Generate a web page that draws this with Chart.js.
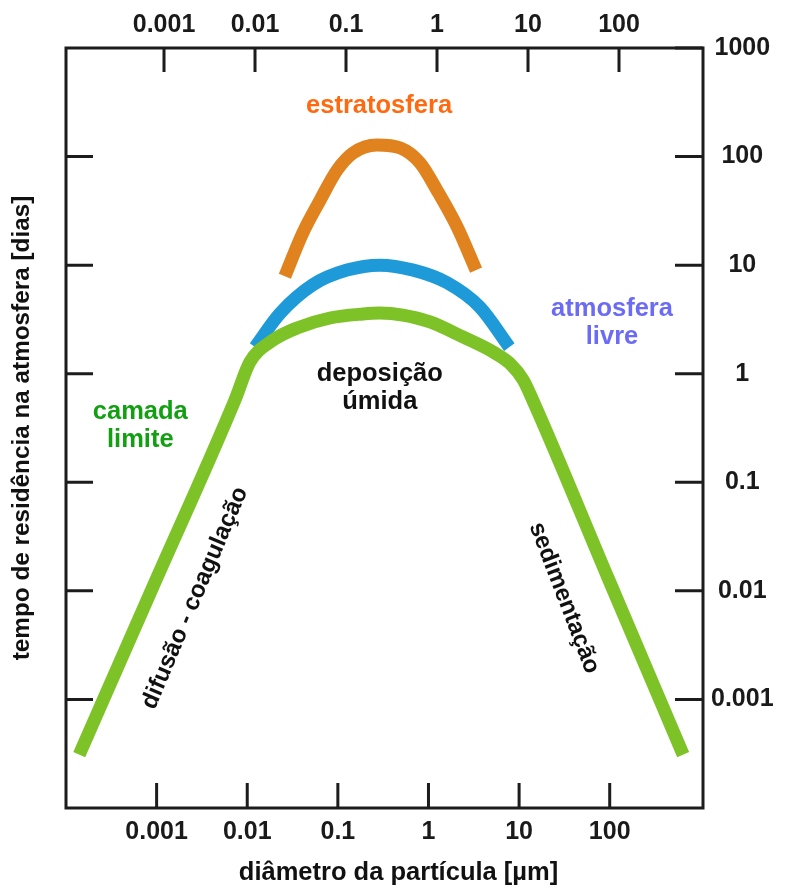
<!DOCTYPE html>
<html lang="pt">
<head>
<meta charset="utf-8">
<title>Tempo de residência das partículas na atmosfera</title>
<script src="https://cdn.jsdelivr.net/npm/chart.js@4/dist/chart.umd.min.js"></script>
<style>
  html, body { margin: 0; padding: 0; background: #ffffff; }
  #wrap { width: 787px; height: 888px; }
</style>
</head>
<body>
<div id="wrap"><canvas id="chart" width="787" height="888"></canvas></div>
<script>
// Particle diameter [µm] against residence time [days], one curve per layer
const boundaryDiameter = [1.4e-4, 8.7e-4, 0.0073, 0.0107, 0.0193, 0.0355, 0.082, 0.19, 0.29, 0.52, 1.04, 2.4, 5.2, 8.0, 11.1, 14.3, 96, 646];
const boundaryDays     = [3.1e-4, 0.01, 0.57, 1.28, 2.04, 2.64, 3.26, 3.55, 3.62, 3.47, 3.0, 2.18, 1.58, 1.23, 0.875, 0.56, 0.0131, 3.1e-4];

const freeDiameter = [0.0122, 0.023, 0.053, 0.126, 0.29, 0.68, 1.6, 3.7, 7.8];
const freeDays     = [1.76, 3.6, 6.6, 9.0, 10.0, 9.0, 6.9, 4.1, 1.76];

const stratoDiameter = [0.026, 0.041, 0.064, 0.098, 0.147, 0.27, 0.49, 0.81, 1.24, 2.07, 3.35];
const stratoDays     = [7.9, 19.8, 40, 75, 108, 128, 120, 87, 49, 22.5, 9.0];

// Axis ticks and their printed labels
const diameterTicks = [0.001, 0.01, 0.1, 1, 10, 100];
const diameterTickLabels = ['0.001', '0.01', '0.1', '1', '10', '100'];
const timeTicks = [0.001, 0.01, 0.1, 1, 10, 100, 1000];
const timeTickLabels = ['0.001', '0.01', '0.1', '1', '10', '100', '1000'];

const xTitle = 'diâmetro da partícula [µm]';
const yTitle = 'tempo de residência na atmosfera [dias]';

// Text notes placed in data coordinates (diameter, days)
const notes = [
  { lines: ['estratosfera'], at: [0.285, 292], color: '#ff6a10', size: 25.5 },
  { lines: ['atmosfera', 'livre'], at: [106, 2.93], color: '#6b6bf5', size: 25.5 },
  { lines: ['camada', 'limite'], at: [6.6e-4, 0.33], color: '#12a012', size: 25.5 },
  { lines: ['deposição', 'úmida'], at: [0.29, 0.74], color: '#111111', size: 25.5 },
  { lines: ['difusão - coagulação'], at: [0.00265, 0.0086], color: '#111111', size: 24, angle: -67 },
  { lines: ['sedimentação'], at: [31.4, 0.0086], color: '#111111', size: 24, angle: 69 }
];

const zip = (xs, ys) => xs.map((x, i) => ({ x: x, y: ys[i] }));

const FONT = "'Liberation Sans', Arial, sans-serif";
Chart.defaults.font.family = FONT;
Chart.defaults.color = '#1a1a1a';

const tickFont = { family: FONT, size: 25, weight: 'bold' };

// Frame, inward tick marks, the horizontal axis title and the text notes
const frameAndNotes = {
  id: 'frameAndNotes',
  afterDraw(chart) {
    const { ctx, chartArea: a, scales } = chart;
    ctx.save();
    ctx.strokeStyle = '#1c1c1c';
    ctx.lineWidth = 3;
    ctx.lineJoin = 'miter';
    ctx.strokeRect(a.left, a.top, a.right - a.left, a.bottom - a.top);
    ctx.beginPath();
    diameterTicks.forEach(v => {
      const xb = scales.x.getPixelForValue(v);
      ctx.moveTo(xb, a.bottom);
      ctx.lineTo(xb, a.bottom - 25);
      const xt = scales.xTop.getPixelForValue(v);
      ctx.moveTo(xt, a.top);
      ctx.lineTo(xt, a.top + 24);
    });
    timeTicks.forEach(v => {
      const y = scales.y.getPixelForValue(v);
      ctx.moveTo(a.right, y);
      ctx.lineTo(a.right - 28, y);
      if (v < 1000) {
        ctx.moveTo(a.left, y);
        ctx.lineTo(a.left + 27, y);
      }
    });
    ctx.stroke();

    ctx.textAlign = 'center';
    ctx.textBaseline = 'middle';

    // horizontal axis title, sitting a little right of the plot centre
    ctx.font = 'bold 25.5px ' + FONT;
    ctx.fillStyle = '#111111';
    ctx.fillText(xTitle, (a.left + a.right) / 2 + 14, scales.x.bottom - 15);

    const lineGap = 28;
    notes.forEach(n => {
      const x = scales.x.getPixelForValue(n.at[0]);
      const y = scales.y.getPixelForValue(n.at[1]);
      ctx.save();
      ctx.font = 'bold ' + n.size + 'px ' + FONT;
      ctx.translate(x, y);
      ctx.rotate((n.angle || 0) * Math.PI / 180);
      ctx.fillStyle = n.color;
      n.lines.forEach((t, i) => {
        ctx.fillText(t, 0, (i - (n.lines.length - 1) / 2) * lineGap);
      });
      ctx.restore();
    });
    ctx.restore();
  }
};

const lineStyle = {
  borderWidth: 13,
  pointRadius: 0,
  pointHoverRadius: 0,
  fill: false,
  cubicInterpolationMode: 'monotone',
  borderCapStyle: 'butt',
  borderJoinStyle: 'round'
};

new Chart(document.getElementById('chart'), {
  type: 'line',
  data: {
    datasets: [
      Object.assign({ label: 'camada limite', data: zip(boundaryDiameter, boundaryDays), borderColor: '#7dc328' }, lineStyle),
      Object.assign({ label: 'atmosfera livre', data: zip(freeDiameter, freeDays), borderColor: '#1e9ad8' }, lineStyle),
      Object.assign({ label: 'estratosfera', data: zip(stratoDiameter, stratoDays), borderColor: '#e0821e' }, lineStyle)
    ]
  },
  options: {
    responsive: false,
    animation: false,
    layout: { padding: 0 },
    plugins: { legend: { display: false }, tooltip: { enabled: false } },
    scales: {
      x: {
        type: 'logarithmic',
        position: 'bottom',
        bounds: 'data',
        min: 1e-4,
        max: 1070,
        grid: { display: false, drawTicks: false },
        border: { display: false },
        afterBuildTicks: s => { s.ticks = diameterTicks.map(v => ({ value: v })); },
        afterFit: s => { s.height = 80; },
        ticks: {
          autoSkip: false, maxRotation: 0, minRotation: 0, padding: 9,
          font: tickFont, color: '#1a1a1a',
          callback: (v, i) => diameterTickLabels[i]
        }
      },
      xTop: {
        type: 'logarithmic',
        position: 'top',
        bounds: 'data',
        min: 8.375e-5,
        max: 837.5,
        grid: { display: false, drawTicks: false },
        border: { display: false },
        afterBuildTicks: s => { s.ticks = diameterTicks.map(v => ({ value: v })); },
        afterFit: s => { s.height = 48; },
        ticks: {
          autoSkip: false, maxRotation: 0, minRotation: 0, padding: 8,
          font: tickFont, color: '#1a1a1a',
          callback: (v, i) => diameterTickLabels[i]
        }
      },
      y: {
        type: 'logarithmic',
        position: 'right',
        bounds: 'data',
        min: 1e-4,
        max: 1000,
        grid: { display: false, drawTicks: false },
        border: { display: false },
        afterBuildTicks: s => { s.ticks = timeTicks.map(v => ({ value: v })); },
        afterFit: s => { s.width = 84; },
        ticks: {
          autoSkip: false, padding: 8, crossAlign: 'center',
          font: tickFont, color: '#1a1a1a',
          callback: (v, i) => timeTickLabels[i]
        }
      },
      yLeft: {
        type: 'logarithmic',
        position: 'left',
        bounds: 'data',
        min: 1e-4,
        max: 1000,
        grid: { display: false, drawTicks: false },
        border: { display: false },
        ticks: { display: false },
        afterFit: s => { s.width = 66; },
        title: {
          display: true, text: yTitle,
          font: { family: FONT, size: 24.3, weight: 'bold' }, color: '#111111',
          padding: { top: 8, bottom: 0 }
        }
      }
    }
  },
  plugins: [frameAndNotes]
});
</script>
</body>
</html>
